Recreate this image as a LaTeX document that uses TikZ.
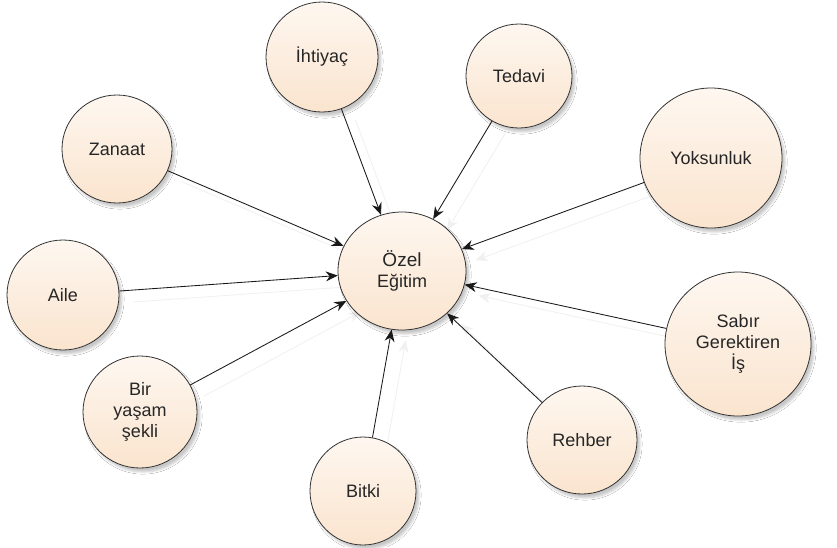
\documentclass[tikz,border=0pt]{standalone}
\usepackage{fontspec}
\setmainfont{Liberation Sans}
\usetikzlibrary{arrows.meta,shapes.geometric,shadows.blur}
\definecolor{nodetop}{RGB}{254,247,240}
\definecolor{nodebot}{RGB}{250,228,206}
\definecolor{rim}{RGB}{50,50,50}
\tikzset{
  shape only/.style={ellipse, inner sep=0pt, align=center,
    font=\fontsize{18}{21}\selectfont},
  topic/.style={shape only, draw=rim, line width=0.8pt,
    top color=nodetop, bottom color=nodebot, text=black!85,
    blur shadow={shadow xshift=3pt, shadow yshift=-4pt,
      shadow opacity=22, shadow blur steps=6}},
  link/.style={-{Stealth[length=12pt,width=10pt]}, line width=0.85pt, black!90},
  faintlink/.style={-{Stealth[length=12pt,width=10pt]}, line width=0.8pt, black!6,
    transform canvas={shift={(14pt,-11pt)}}}
}
% name / centre / width / height / font size / label
\newcommand\topiclist{
  core/{(402,271)}/128/118/{\fontsize{19}{24}\selectfont}/{Özel\\Eğitim},
  ihtiyac/{(322,57)}/112/110/{}/{İhtiyaç},
  tedavi/{(519,76)}/106/104/{}/{Tedavi},
  zanaat/{(117,149)}/110/108/{}/{Zanaat},
  yoksun/{(711,158)}/142/140/{}/{Yoksunluk},
  aile/{(63,295)}/112/110/{}/{Aile},
  sabir/{(738,344)}/146/144/{}/{Sabır\\Gerektiren\\İş},
  yasam/{(140,412)}/114/112/{}/{Bir\\yaşam\\şekli},
  bitki/{(363,491)}/106/108/{}/{Bitki},
  rehber/{(582,440)}/110/108/{}/{Rehber}}
\newcommand\sourcelist{ihtiyac,tedavi,zanaat,yoksun,aile,sabir,yasam,bitki,rehber}
\begin{document}
\begin{tikzpicture}[x=1pt,y=-1pt]
  \useasboundingbox[fill=white] (0,0) rectangle (837,547);

  % outlines only, so the pale connector copies can sit underneath
  \foreach \n/\p/\w/\h/\f/\t in \topiclist
    \node[shape only, minimum width=\w pt, minimum height=\h pt] (\n) at \p {};
  \foreach \src in \sourcelist
    \draw[faintlink] (\src) -- (core);

  % the visible topics
  \foreach \n/\p/\w/\h/\f/\t in \topiclist
    \node[topic, minimum width=\w pt, minimum height=\h pt] (\n) at \p {\f\t};

  % connectors, each pointing at the centre topic
  \foreach \src in \sourcelist
    \draw[link] (\src) -- (core);
\end{tikzpicture}
\end{document}
